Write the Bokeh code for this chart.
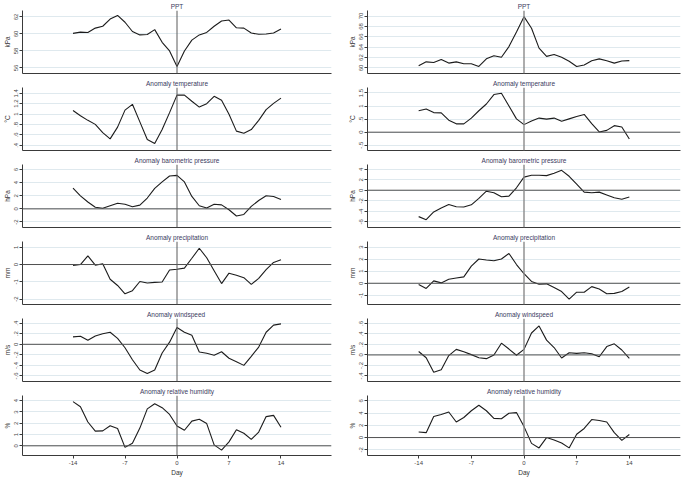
from bokeh.plotting import figure
from bokeh.layouts import column, row
from bokeh.models import Range1d, FixedTicker, Span
from bokeh.embed import file_html
from bokeh.resources import INLINE

days = list(range(-14, 15))

titles_left = ["PPT", "Anomaly temperature", "Anomaly barometric pressure",
               "Anomaly precipitation", "Anomaly  windspeed", "Anomaly relative humidity"]
titles_right = ["PPT", "Anomaly temperature", "Anomaly barometric pressure",
                "Anomaly precipitation", "Anomaly windspeed", "Anomaly relative humidity"]
units = ["kPa", "°C", "hPa", "mm", "m/s", "%"]

# ---- left column series ----
left_ppt = [60.07, 60.22, 60.18, 60.69, 60.91, 61.75, 62.18, 61.38, 60.29, 59.89, 59.93, 60.51, 59.02, 58.0,
            56.18, 58.0, 59.27, 59.89, 60.18, 60.91, 61.53, 61.64, 60.73, 60.69, 60.11, 59.96, 60.0, 60.11, 60.58]
left_temp = [1.069, 0.968, 0.879, 0.802, 0.643, 0.524, 0.749, 1.075, 1.187, 0.850, 0.512, 0.436, 0.702, 1.027,
             1.364, 1.364, 1.246, 1.134, 1.199, 1.341, 1.264, 0.998, 0.672, 0.631, 0.702, 0.879, 1.086, 1.205, 1.305]
left_baro = [3.17, 1.99, 1.04, 0.24, 0.09, 0.47, 0.85, 0.71, 0.33, 0.57, 1.65, 3.12, 4.11, 5.01,
             5.11, 4.11, 1.89, 0.47, 0.14, 0.71, 0.61, -0.14, -1.09, -0.85, 0.38, 1.28, 1.99, 1.89, 1.42]
left_prec = [-0.05, 0.0, 0.50, -0.04, 0.04, -0.85, -1.21, -1.69, -1.51, -0.98, -1.07, -1.03, -1.01, -0.32,
             -0.27, -0.21, 0.36, 0.94, 0.39, -0.36, -1.10, -0.50, -0.62, -0.76, -1.15, -0.80, -0.30, 0.12, 0.27]
left_wind = [0.141, 0.153, 0.076, 0.159, 0.200, 0.229, 0.112, -0.065, -0.294, -0.488, -0.553, -0.488, -0.165, 0.041,
             0.318, 0.229, 0.171, -0.147, -0.171, -0.206, -0.141, -0.265, -0.329, -0.400, -0.229, -0.053, 0.229, 0.365, 0.388]
left_rh = [3.92, 3.46, 2.11, 1.30, 1.32, 1.78, 1.54, -0.14, 0.22, 1.57, 3.27, 3.73, 3.38, 2.78,
           1.76, 1.38, 2.19, 2.35, 1.97, 0.08, -0.38, 0.35, 1.43, 1.11, 0.57, 1.22, 2.59, 2.70, 1.65]

# ---- right column series ----
right_ppt = [60.41, 61.18, 61.06, 61.65, 60.94, 61.18, 60.82, 60.82, 60.29, 61.76, 62.35, 62.06, 64.12, 66.94,
             69.88, 67.65, 63.82, 62.24, 62.59, 62.06, 61.29, 60.29, 60.59, 61.41, 61.76, 61.41, 60.94, 61.35, 61.41]
right_temp = [0.82, 0.89, 0.75, 0.74, 0.46, 0.32, 0.32, 0.54, 0.82, 1.08, 1.44, 1.49, 1.00, 0.51,
              0.29, 0.43, 0.54, 0.50, 0.54, 0.42, 0.51, 0.60, 0.68, 0.33, 0.01, 0.07, 0.25, 0.20, -0.26]
right_baro = [-5.03, -5.62, -4.14, -3.37, -2.72, -3.14, -3.20, -2.78, -1.54, -0.18, -0.47, -1.24, -1.12, 0.47,
              2.49, 2.84, 2.84, 2.78, 3.25, 3.79, 2.66, 1.18, -0.36, -0.47, -0.36, -0.89, -1.42, -1.72, -1.30]
right_prec = [-0.10, -0.43, 0.20, 0.03, 0.33, 0.43, 0.53, 1.42, 2.01, 1.93, 1.86, 2.01, 2.47, 1.55,
              0.79, 0.15, -0.08, -0.05, -0.36, -0.69, -1.32, -0.74, -0.74, -0.28, -0.48, -0.87, -0.84, -0.69, -0.31]
right_wind = [0.065, -0.053, -0.329, -0.282, -0.012, 0.106, 0.059, 0.006, -0.053, -0.071, 0.0, 0.224, 0.112, -0.006,
              0.106, 0.418, 0.553, 0.282, 0.141, -0.059, 0.041, 0.029, 0.041, 0.024, -0.035, 0.159, 0.212, 0.094, -0.065]
right_rh = [0.90, 0.80, 3.43, 3.78, 4.18, 2.54, 3.28, 4.38, 5.27, 4.38, 3.13, 3.08, 3.98, 4.08,
            1.79, -0.95, -1.69, 0.0, -0.40, -0.90, -1.69, 0.55, 1.49, 2.94, 2.79, 2.54, 0.80, -0.45, 0.50]

# ---- y ticks and labels ----
left_yticks = [[56, 58, 60, 62], [0.4, 0.6, 0.8, 1, 1.2, 1.4], [-2, 0, 2, 4, 6],
               [-2, -1, 0, 1], [-0.6, -0.4, -0.2, 0, 0.2, 0.4], [0, 1, 2, 3, 4]]
left_ylabels = [["56", "58", "60", "62"], [".4", ".6", ".8", "1", "1.2", "1.4"], ["-2", "0", "2", "4", "6"],
                ["-2", "-1", "0", "1"], ["-.6", "-.4", "-.2", "0", ".2", ".4"], ["0", "1", "2", "3", "4"]]
right_yticks = [[60, 62, 64, 66, 68, 70], [-0.5, 0, 0.5, 1, 1.5], [-6, -4, -2, 0, 2, 4],
                [-1, 0, 1, 2, 3], [-0.4, -0.2, 0, 0.2, 0.4, 0.6], [-2, 0, 2, 4, 6]]
right_ylabels = [["60", "62", "64", "66", "68", "70"], ["-.5", "0", ".5", "1", "1.5"], ["-6", "-4", "-2", "0", "2", "4"],
                 ["-1", "0", "1", "2", "3"], ["-.4", "-.2", "0", ".2", ".4", ".6"], ["-2", "0", "2", "4", "6"]]
left_yranges = [(55.35, 62.76), (0.30, 1.51), (-2.84, 6.76), (-2.31, 1.33), (-0.706, 0.49), (-0.86, 4.46)]
right_yranges = [(58.94, 71.06), (-0.70, 1.71), (-7.1, 4.9), (-1.76, 3.46), (-0.506, 0.694), (-2.93, 6.87)]

xticks = [-14, -7, 0, 7, 14]
xlabels = ["-14", "-7", "0", "7", "14"]

left_series = [left_ppt, left_temp, left_baro, left_prec, left_wind, left_rh]
right_series = [right_ppt, right_temp, right_baro, right_prec, right_wind, right_rh]

FONT = "Liberation Sans"
TITLE_C = "#3b3b60"
AXIS_C = "#3a3a3a"
GRID_C = "#dfe9ee"


def panel(col, i, title, unit, ys, yticks, ylabels, yr):
    bottom = (i == 5)
    if col == 0:
        w, bl, br = 342, 18, 11
        vcol, vw = "#5a5a5a", 1
    else:
        w, bl, br = 339, 25, 1
        vcol, vw = "#8a8a8a", 1.4
    h = 93 if bottom else 77
    p = figure(width=w, height=h, output_backend="svg", toolbar_location=None,
               x_range=Range1d(-20.8, 20.8), y_range=Range1d(*yr),
               min_border_left=bl, min_border_right=br, min_border_top=8,
               min_border_bottom=16 if bottom else 4)
    p.outline_line_color = None
    p.background_fill_color = None
    p.border_fill_color = None
    p.title.text = title
    p.title.align = "center"
    p.title.text_font = FONT
    p.title.text_font_size = "6.5px"
    p.title.text_font_style = "normal"
    p.title.text_color = TITLE_C
    p.title.standoff = 1
    p.title.offset = 0

    p.xgrid.visible = False
    p.ygrid.grid_line_color = GRID_C
    p.ygrid.grid_line_width = 1

    ya = p.yaxis[0]
    ya.ticker = FixedTicker(ticks=yticks, minor_ticks=[])
    ya.major_label_overrides = {t: l for t, l in zip(yticks, ylabels)}
    ya.major_label_orientation = "vertical"
    ya.major_label_text_font = FONT
    ya.major_label_text_font_size = "6px"
    ya.major_label_text_color = "#444444"
    ya.major_label_standoff = 1
    ya.major_tick_out = 3
    ya.major_tick_in = 0
    ya.minor_tick_out = 0
    ya.minor_tick_in = 0
    ya.axis_line_color = AXIS_C
    ya.major_tick_line_color = AXIS_C
    ya.axis_label = unit
    ya.axis_label_text_font = FONT
    ya.axis_label_text_font_size = "6.5px"
    ya.axis_label_text_font_style = "normal"
    ya.axis_label_text_color = "#333333"
    ya.axis_label_standoff = 1

    xa = p.xaxis[0]
    xa.axis_line_color = AXIS_C
    xa.axis_line_width = 1
    xa.minor_tick_out = 0
    xa.minor_tick_in = 0
    xa.ticker = FixedTicker(ticks=xticks, minor_ticks=[])
    if bottom:
        xa.major_label_overrides = {t: l for t, l in zip(xticks, xlabels)}
        xa.major_label_text_font = FONT
        xa.major_label_text_font_size = "6px"
        xa.major_label_text_color = "#444444"
        xa.major_label_standoff = 2
        xa.major_tick_out = 3
        xa.major_tick_in = 0
        xa.major_tick_line_color = AXIS_C
        xa.axis_label = "Day"
        xa.axis_label_text_font = FONT
        xa.axis_label_text_font_size = "6.5px"
        xa.axis_label_text_font_style = "normal"
        xa.axis_label_text_color = "#333333"
        xa.axis_label_standoff = 1
    else:
        # Stata draws the bare x axis line in every panel: keep the line, hide ticks and labels
        xa.major_tick_out = 0
        xa.major_tick_in = 0
        xa.major_tick_line_color = None
        xa.major_label_overrides = {t: "" for t in xticks}
        xa.major_label_text_font_size = "6px"
        xa.major_label_text_alpha = 0
        xa.major_label_standoff = 0

    if yr[0] < 0 < yr[1]:
        p.add_layout(Span(location=0, dimension="width", line_color="#505050", line_width=1))
    p.add_layout(Span(location=0, dimension="height", line_color=vcol, line_width=vw))
    p.line(days, ys, line_color="#1c1c1c", line_width=1.1)
    return p


rows = []
for i in range(6):
    lp = panel(0, i, titles_left[i], units[i], left_series[i], left_yticks[i], left_ylabels[i], left_yranges[i])
    rp = panel(1, i, titles_right[i], units[i], right_series[i], right_yticks[i], right_ylabels[i], right_yranges[i])
    rows.append(row(lp, rp))

layout = column(*rows)

open("out.html", "w").write(file_html(layout, INLINE))
